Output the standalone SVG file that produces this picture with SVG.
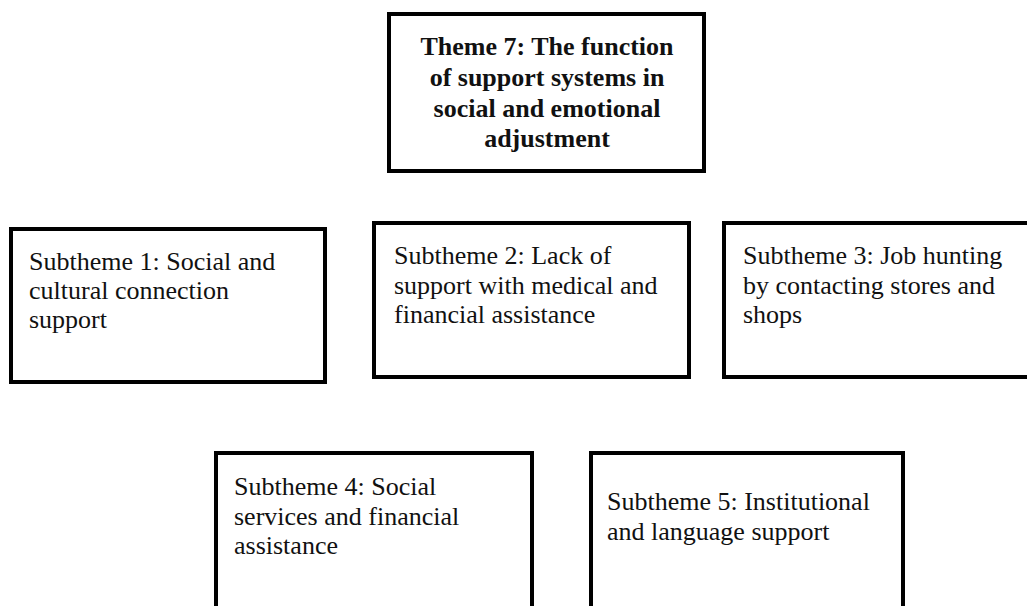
<svg xmlns="http://www.w3.org/2000/svg" width="1027" height="606" viewBox="0 0 1027 606">
<style>
.box{fill:#fff;stroke:#000;stroke-width:4}
.t{font-family:"Liberation Serif","Times New Roman",serif;font-size:26px;fill:#111}
.h{font-family:"Liberation Serif","Times New Roman",serif;font-size:26px;font-weight:bold;fill:#111;text-anchor:middle}
</style>
<rect width="1027" height="606" fill="#fff"/>
<g id="connectors"></g>
<g id="theme7">
<rect class="box" x="389" y="14" width="315" height="157"/>
<text class="h" x="547" y="55">Theme 7: The function</text>
<text class="h" x="547" y="86">of support systems in</text>
<text class="h" x="547" y="117">social and emotional</text>
<text class="h" x="547" y="147">adjustment</text>
</g>
<g id="sub1">
<rect class="box" x="11" y="229" width="314" height="153"/>
<text class="t" x="29" y="270">Subtheme 1: Social and</text>
<text class="t" x="29" y="299">cultural connection</text>
<text class="t" x="29" y="328">support</text>
</g>
<g id="sub2">
<rect class="box" x="374" y="223" width="315" height="154"/>
<text class="t" x="394" y="264">Subtheme 2: Lack of</text>
<text class="t" x="394" y="294">support with medical and</text>
<text class="t" x="394" y="323">financial assistance</text>
</g>
<g id="sub3">
<rect class="box" x="724" y="223" width="320" height="154"/>
<text class="t" x="743" y="264">Subtheme 3: Job hunting</text>
<text class="t" x="743" y="294">by contacting stores and</text>
<text class="t" x="743" y="323">shops</text>
</g>
<g id="sub4">
<rect class="box" x="216" y="453" width="316" height="200"/>
<text class="t" x="234" y="495">Subtheme 4: Social</text>
<text class="t" x="234" y="525">services and financial</text>
<text class="t" x="234" y="554">assistance</text>
</g>
<g id="sub5">
<rect class="box" x="591" y="453" width="312" height="200"/>
<text class="t" x="607" y="510">Subtheme 5: Institutional</text>
<text class="t" x="607" y="540">and language support</text>
</g>
</svg>
